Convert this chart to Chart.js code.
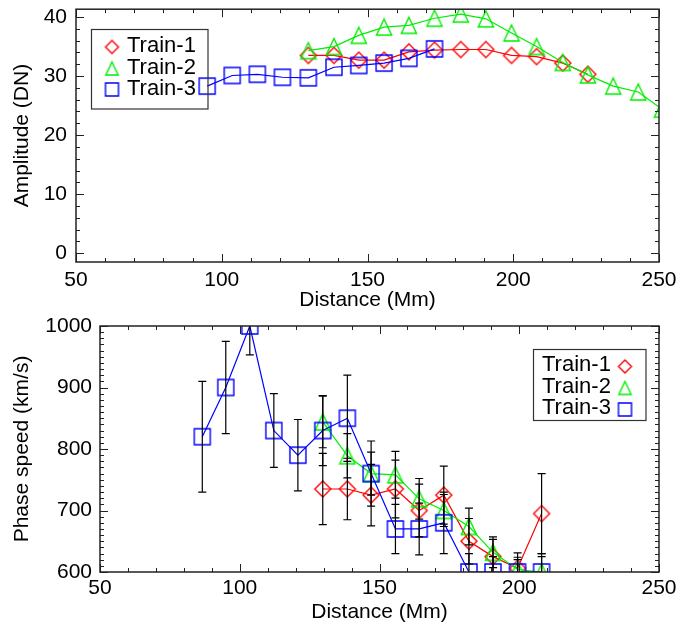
<!DOCTYPE html>
<html>
<head>
<meta charset="utf-8">
<script src="https://cdn.jsdelivr.net/npm/chart.js@4.4.1/dist/chart.umd.min.js"></script>
<style>
  html, body { margin: 0; padding: 0; background: #fff; }
  #wrap { position: relative; width: 680px; height: 632px; }
  canvas { position: absolute; left: 0; }
  #ampChart { top: 0; }
  #speedChart { top: 316px; }
</style>
</head>
<body>
<div id="wrap">
  <canvas id="ampChart" width="680" height="316"></canvas>
  <canvas id="speedChart" width="680" height="316"></canvas>
</div>
<script>
// distances (Mm) shared by both panels
var distance = [86.6, 95.0, 103.6, 112.2, 120.8, 129.7, 138.5, 147.0, 155.7, 164.2,
                173.0, 182.0, 190.6, 199.4, 208.0, 217.0, 225.6, 234.3, 242.9, 251.0];

// top panel: amplitude (DN)
var ampTrain1 = [null, null, null, null, null, 33.5, 33.5, 32.7, 32.7, 34.1,
                 34.4, 34.5, 34.5, 33.5, 33.3, 32.2, 30.3, null, null, null];
var ampTrain2 = [null, null, null, null, null, 34.3, 35.0, 36.9, 38.3, 38.6,
                 39.8, 40.5, 39.7, 37.3, 35.0, 32.3, 30.2, 28.3, 27.3, 24.4];
var ampTrain3 = [null, 28.3, 30.1, 30.3, 29.8, 29.7, 31.5, 31.8, 32.2, 33.0,
                 34.6, null, null, null, null, null, null, null, null, null];

// bottom panel: phase speed (km/s) and its errors
var speedTrain1 = [null, null, null, null, null, 735, 735, 725, 735, 700, 725, 650, 625, 606, 695];
var speedErr1   = [null, null, null, null, null, 58, 50, 50, 47, 43, 47, 37, 28, 25, 65];
var speedTrain2 = [null, null, null, null, null, 844, 789, 760, 758, 719, 700, 674, 632, 604, 600];
var speedErr2   = [null, null, null, null, null, 42, 36, 35, 38, 33, 26, 30, 25, 20, 25];
var speedTrain3 = [820, 900, 1000, 830, 790, 830, 850, 760, 670, 670, 680, 600, 600, 600, 600];
var speedErr3   = [90, 75, 47, 60, 58, 57, 70, 53, 40, 42, 50, 30, 25, 20, 30];

var trainNames = ["Train-1", "Train-2", "Train-3"];
var xTicks = [50, 100, 150, 200, 250];
var ampTicks = [0, 10, 20, 30, 40];
var speedTicks = [600, 700, 800, 900, 1000];

var RED = "#ff0000", GREEN = "#00ee00", BLUE = "#0000ff";
var FONT = "'Liberation Sans', Arial, Helvetica, sans-serif";
Chart.defaults.font.family = FONT;
Chart.defaults.font.size = 21;
Chart.defaults.color = "#000";

// IDL style symbols drawn on small canvases
function makeMarker(shape, color, half) {
  var s = Math.ceil(half * 2 + 4);
  var c = document.createElement("canvas");
  c.width = s;
  c.height = s;
  var g = c.getContext("2d");
  var m = s / 2;
  g.strokeStyle = color;
  g.lineWidth = 1.4;
  g.beginPath();
  if (shape === "diamond") {
    g.moveTo(m, m - half); g.lineTo(m + half, m); g.lineTo(m, m + half); g.lineTo(m - half, m);
  } else if (shape === "triangle") {
    g.moveTo(m, m - half); g.lineTo(m + half * 0.95, m + half); g.lineTo(m - half * 0.95, m + half);
  } else {
    g.moveTo(m - half, m - half); g.lineTo(m + half, m - half); g.lineTo(m + half, m + half); g.lineTo(m - half, m + half);
  }
  g.closePath();
  g.stroke();
  return c;
}

function toPoints(ys) {
  var pts = [];
  for (var i = 0; i < ys.length; i++) {
    if (ys[i] != null) pts.push({ x: distance[i], y: ys[i] });
  }
  return pts;
}

function compact(vals) {
  return vals.filter(function (v) { return v != null; });
}

function series(idx, values, errors, color, shape) {
  return {
    label: trainNames[idx],
    data: toPoints(values),
    errors: errors ? compact(errors) : null,
    borderColor: color,
    backgroundColor: color,
    borderWidth: 1.2,
    pointStyle: makeMarker(shape, color, 8),
    legendMarker: makeMarker(shape, color, 6.5),
    pointRadius: 8,
    pointHoverRadius: 8,
    tension: 0,
    fill: false,
    order: 3 - idx
  };
}

// frame + inward ticks on all four sides
var idlFrame = {
  id: "idlFrame",
  afterDraw: function (chart, args, opts) {
    var ctx = chart.ctx, a = chart.chartArea;
    var xs = chart.scales.x, ys = chart.scales.y;
    var v, p, len;
    ctx.save();
    ctx.strokeStyle = "#222";
    ctx.lineWidth = 1;
    ctx.beginPath();
    for (v = Math.ceil(xs.min / opts.xMinor) * opts.xMinor; v <= xs.max + 1e-6; v += opts.xMinor) {
      p = Math.round(xs.getPixelForValue(v)) + 0.5;
      len = opts.xMajor.indexOf(v) >= 0 ? 8 : 4;
      ctx.moveTo(p, a.bottom); ctx.lineTo(p, a.bottom - len);
      ctx.moveTo(p, a.top); ctx.lineTo(p, a.top + len);
    }
    for (v = Math.ceil(ys.min / opts.yMinor) * opts.yMinor; v <= ys.max + 1e-6; v += opts.yMinor) {
      p = Math.round(ys.getPixelForValue(v)) + 0.5;
      len = opts.yMajor.indexOf(v) >= 0 ? 8 : 4;
      ctx.moveTo(a.left, p); ctx.lineTo(a.left + len, p);
      ctx.moveTo(a.right, p); ctx.lineTo(a.right - len, p);
    }
    ctx.stroke();
    ctx.lineWidth = 1.5;
    ctx.strokeRect(a.left, a.top, a.right - a.left, a.bottom - a.top);
    ctx.restore();
  }
};

// black error bars with caps
var errorBars = {
  id: "errorBars",
  afterDatasetsDraw: function (chart) {
    var ctx = chart.ctx, a = chart.chartArea;
    var xs = chart.scales.x, ys = chart.scales.y;
    ctx.save();
    ctx.beginPath();
    ctx.rect(a.left, a.top, a.right - a.left, a.bottom - a.top);
    ctx.clip();
    ctx.strokeStyle = "#000";
    ctx.lineWidth = 1.2;
    chart.data.datasets.forEach(function (ds) {
      if (!ds.errors) return;
      ds.data.forEach(function (pt, i) {
        var px = xs.getPixelForValue(pt.x);
        var hi = ys.getPixelForValue(pt.y + ds.errors[i]);
        var lo = ys.getPixelForValue(pt.y - ds.errors[i]);
        ctx.beginPath();
        ctx.moveTo(px, hi); ctx.lineTo(px, lo);
        ctx.moveTo(px - 4, hi); ctx.lineTo(px + 4, hi);
        ctx.moveTo(px - 4, lo); ctx.lineTo(px + 4, lo);
        ctx.stroke();
      });
    });
    ctx.restore();
  }
};

// boxed legend like the IDL one
var idlLegend = {
  id: "idlLegend",
  afterDraw: function (chart, args, opts) {
    var ctx = chart.ctx;
    ctx.save();
    ctx.strokeStyle = "#333";
    ctx.lineWidth = 1.2;
    ctx.strokeRect(opts.box[0], opts.box[1], opts.box[2], opts.box[3]);
    ctx.font = "22px " + FONT;
    ctx.fillStyle = "#000";
    ctx.textAlign = "left";
    ctx.textBaseline = "middle";
    chart.data.datasets.forEach(function (ds, i) {
      var m = ds.legendMarker;
      ctx.fillText(ds.label, opts.textX, opts.rows[i]);
      ctx.drawImage(m, opts.symX - m.width / 2, opts.rows[i] + opts.symDy - m.height / 2);
    });
    ctx.restore();
  }
};

function axisOptions(min, max, ticks, width, title, titlePad, tickPad, isX) {
  return {
    type: "linear",
    min: min,
    max: max,
    grid: { display: false, drawTicks: false },
    border: { display: false },
    afterBuildTicks: function (s) {
      s.ticks = ticks.map(function (v) { return { value: v }; });
    },
    afterFit: function (s) {
      if (isX) s.height = width; else s.width = width;
      s.paddingTop = 0; s.paddingBottom = 0; s.paddingLeft = 0; s.paddingRight = 0;
    },
    ticks: {
      padding: tickPad,
      maxRotation: 0,
      autoSkip: false,
      callback: function (v) { return String(v); }
    },
    title: {
      display: true,
      text: title,
      padding: isX ? { top: 0, bottom: titlePad } : { top: titlePad, bottom: 0 }
    }
  };
}

new Chart(document.getElementById("ampChart").getContext("2d"), {
  type: "line",
  data: {
    datasets: [
      series(0, ampTrain1, null, RED, "diamond"),
      series(1, ampTrain2, null, GREEN, "triangle"),
      series(2, ampTrain3, null, BLUE, "square")
    ]
  },
  options: {
    responsive: false,
    animation: false,
    events: [],
    layout: { padding: { top: 5, right: 21, bottom: 0, left: 0 } },
    scales: {
      x: axisOptions(50, 250, xTicks, 54, "Distance (Mm)", 3, 6, true),
      y: axisOptions(-1.5, 41.33, ampTicks, 76, "Amplitude (DN)", 10, 9, false)
    },
    plugins: {
      legend: { display: false },
      tooltip: { enabled: false },
      idlFrame: { xMinor: 10, yMinor: 2, xMajor: xTicks, yMajor: ampTicks },
      idlLegend: { box: [91.5, 29.5, 116.5, 79.5], textX: 127, symX: 112, symDy: 1, rows: [46, 67.5, 88.5] }
    }
  },
  plugins: [idlFrame, idlLegend]
});

new Chart(document.getElementById("speedChart").getContext("2d"), {
  type: "line",
  data: {
    datasets: [
      series(0, speedTrain1, speedErr1, RED, "diamond"),
      series(1, speedTrain2, speedErr2, GREEN, "triangle"),
      series(2, speedTrain3, speedErr3, BLUE, "square")
    ]
  },
  options: {
    responsive: false,
    animation: false,
    events: [],
    layout: { padding: { top: 10, right: 21, bottom: 0, left: 0 } },
    scales: {
      x: axisOptions(50, 250, xTicks, 60, "Distance (Mm)", 7, 4, true),
      y: axisOptions(600, 1000, speedTicks, 100, "Phase speed (km/s)", 10, 8, false)
    },
    plugins: {
      legend: { display: false },
      tooltip: { enabled: false },
      idlFrame: { xMinor: 10, yMinor: 10, xMajor: xTicks, yMajor: speedTicks },
      idlLegend: { box: [533.5, 33.5, 112.5, 71], textX: 542, symX: 625, symDy: 1.5, rows: [49, 70.5, 92] }
    }
  },
  plugins: [idlFrame, errorBars, idlLegend]
});
</script>
</body>
</html>
